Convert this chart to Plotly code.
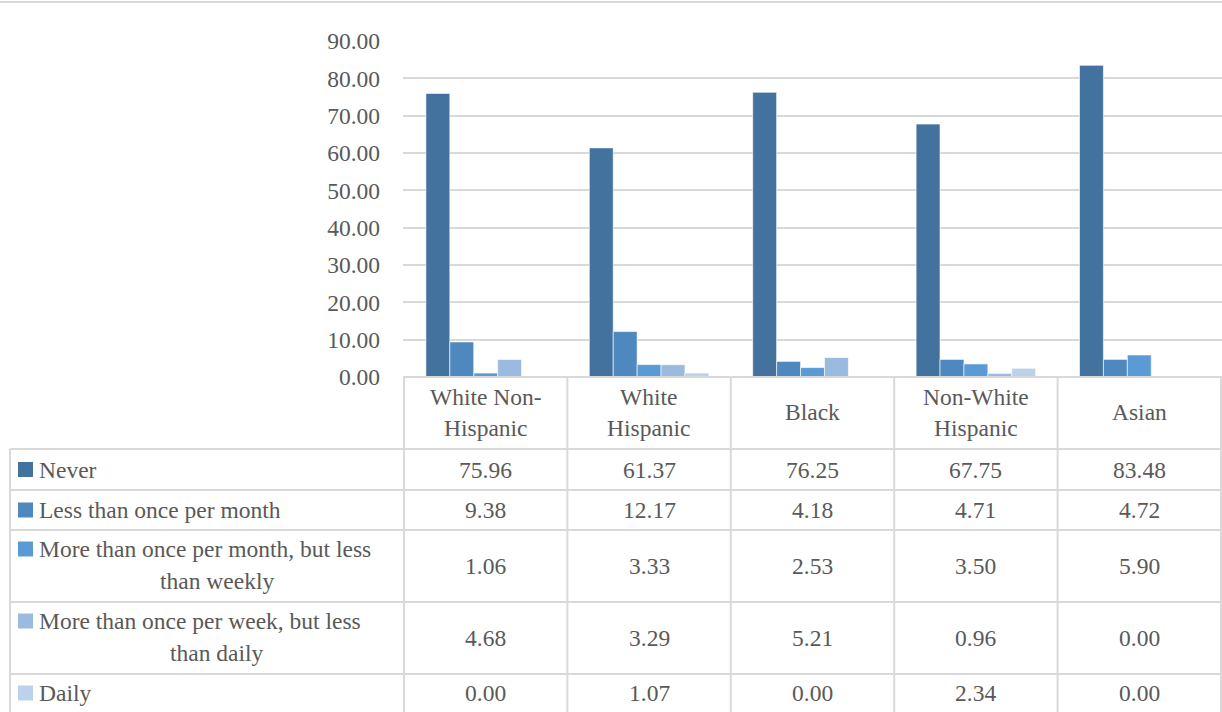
import plotly.graph_objects as go

categories = ["White Non-Hispanic", "White Hispanic", "Black", "Non-White Hispanic", "Asian"]
category_labels = ["White Non-<br>Hispanic", "White<br>Hispanic", "Black", "Non-White<br>Hispanic", "Asian"]
series_names = [
    "Never",
    "Less than once per month",
    "More than once per month, but less than weekly",
    "More than once per week, but less than daily",
    "Daily",
]
series_label_lines = [
    ["Never"],
    ["Less than once per month"],
    ["More than once per month, but less", "than weekly"],
    ["More than once per week, but less", "than daily"],
    ["Daily"],
]
never = [75.96, 61.37, 76.25, 67.75, 83.48]
less_monthly = [9.38, 12.17, 4.18, 4.71, 4.72]
more_monthly = [1.06, 3.33, 2.53, 3.50, 5.90]
more_weekly = [4.68, 3.29, 5.21, 0.96, 0.00]
daily = [0.00, 1.07, 0.00, 2.34, 0.00]
series_values = [never, less_monthly, more_monthly, more_weekly, daily]
y_ticks = [0, 10, 20, 30, 40, 50, 60, 70, 80, 90]

colors = ["#43729E", "#4E88BE", "#5B9BD5", "#9ABAE0", "#BCD1EB"]

W, H = 1222, 712
FONT = "Liberation Serif"
TXT = "#595959"
GRID = "#D9D9D9"
FS = 23.5


def px(x):
    return x / W


def py(y):
    return 1 - y / H


fig = go.Figure()
for name, vals, col in zip(series_names, series_values, colors):
    fig.add_trace(go.Bar(
        x=categories, y=vals, name=name,
        marker=dict(color=col, line=dict(color="rgba(255,255,255,0.6)", width=1)),
        hoverinfo="x+y+name",
    ))

shapes = []
annotations = []
line = dict(color=GRID, width=2)

# top border
shapes.append(dict(type="line", xref="paper", yref="paper", x0=0, x1=1, y0=py(2), y1=py(2), line=line))
# header row top
shapes.append(dict(type="line", xref="paper", yref="paper", x0=px(403), x1=1, y0=py(377), y1=py(377), line=line))
row_edges = [449, 490, 530, 602, 674, 716]
for ry in row_edges:
    shapes.append(dict(type="line", xref="paper", yref="paper", x0=px(10), x1=1, y0=py(ry), y1=py(ry), line=line))
# left border of row labels
shapes.append(dict(type="line", xref="paper", yref="paper", x0=px(10), x1=px(10), y0=py(449), y1=0, line=line))
# category column borders
for i in range(len(categories) + 1):
    shapes.append(dict(type="line", xref="x", yref="paper", x0=i - 0.5, x1=i - 0.5,
                       y0=py(377), y1=0, line=line))

# header labels
for cat, lab in zip(categories, category_labels):
    annotations.append(dict(x=cat, xref="x", y=py(412), yref="paper", text=lab, showarrow=False,
                            xanchor="center", yanchor="middle", align="center",
                            font=dict(family=FONT, size=FS, color=TXT)))

# rows
for r, (lines, vals, col) in enumerate(zip(series_label_lines, series_values, colors)):
    top = row_edges[r]
    bot = row_edges[r + 1] if r < 4 else 712
    if len(lines) == 1:
        first_y = (top + bot) / 2 if r < 4 else 693
    else:
        first_y = top + 19
    # key square
    shapes.append(dict(type="rect", xref="paper", yref="paper", x0=px(18), x1=px(33),
                       y0=py(first_y - 7.5), y1=py(first_y + 7.5), fillcolor=col, line=dict(width=0)))
    annotations.append(dict(x=px(37), xref="paper", y=py(first_y), yref="paper", text=lines[0],
                            showarrow=False, xanchor="left", yanchor="middle",
                            font=dict(family=FONT, size=FS, color=TXT)))
    if len(lines) > 1:
        annotations.append(dict(x=px(217), xref="paper", y=py(first_y + 32), yref="paper", text=lines[1],
                                showarrow=False, xanchor="center", yanchor="middle",
                                font=dict(family=FONT, size=FS, color=TXT)))
    vy = (top + bot) / 2 if r < 4 else 693
    for cat, v in zip(categories, vals):
        annotations.append(dict(x=cat, xref="x", y=py(vy), yref="paper", text=f"{v:.2f}",
                                showarrow=False, xanchor="center", yanchor="middle",
                                font=dict(family=FONT, size=FS, color=TXT)))

fig.update_layout(
    width=W, height=H,
    margin=dict(l=0, r=0, t=0, b=0, pad=0, autoexpand=False),
    paper_bgcolor="white", plot_bgcolor="white",
    barmode="group", bargap=0.268, bargroupgap=0,
    showlegend=False,
    font=dict(family=FONT, size=FS, color=TXT),
    xaxis=dict(domain=[px(403), 1], showticklabels=False, showgrid=False, zeroline=False,
               showline=False, ticks="", automargin=False),
    yaxis=dict(domain=[py(377), py(41)], range=[0, 90], tickvals=y_ticks, tickformat=".2f",
               showgrid=True, gridcolor=GRID, gridwidth=2, zeroline=False, showline=False,
               ticks="", ticklabelstandoff=22, automargin=False,
               tickfont=dict(family=FONT, size=FS, color=TXT)),
    shapes=shapes,
    annotations=annotations,
)

fig.write_html("out.html", config={"displayModeBar": False},
               post_script="document.body.style.margin='0';document.body.style.overflow='hidden';")
